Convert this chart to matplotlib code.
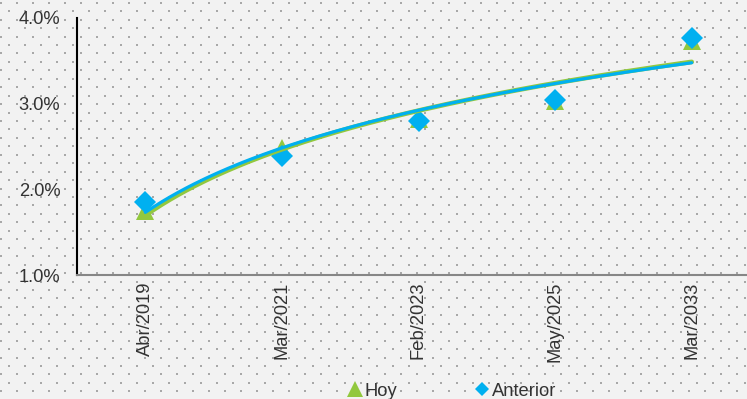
import numpy as np
import matplotlib
matplotlib.use("Agg")
import matplotlib.pyplot as plt
from matplotlib.lines import Line2D
from matplotlib.ticker import FuncFormatter

# Data
categories = ["Abr/2019", "Mar/2021", "Feb/2023", "May/2025", "Mar/2033"]
hoy = [1.75, 2.48, 2.82, 3.03, 3.73]
anterior = [1.85, 2.39, 2.80, 3.04, 3.77]

green = "#92C83E"
blue = "#00B0F0"

plt.rcParams["font.family"] = ["Liberation Sans", "DejaVu Sans"]
plt.rcParams["font.size"] = 13.2

W, H = 747, 399
fig = plt.figure(figsize=(W / 100, H / 100), dpi=100)
fig.patch.set_facecolor("#F2F2F2")

# Dotted background pattern over the whole figure
bg = fig.add_axes([0, 0, 1, 1], zorder=-1)
bg.set_xlim(0, W)
bg.set_ylim(H, 0)
bg.axis("off")
rows = np.arange(2.7, H, 8.45)
px, py = [], []
for i, yy in enumerate(rows):
    xs = np.arange(1.3 + (8 if i % 2 else 0), W, 16)
    px.extend(xs)
    py.extend([yy] * len(xs))
bg.scatter(px, py, s=1.3, marker="s", color="#A8A8A8", linewidths=0)

ax = fig.add_axes([77 / W, 1 - 275 / H, (760 - 77) / W, (275 - 18) / H])
ax.patch.set_alpha(0)

x = np.arange(len(categories))

# logarithmic trend lines (like Excel)
xf = np.linspace(1, len(categories), 200)
for vals, col, lw in [(hoy, green, 3.4), (anterior, blue, 2.3)]:
    a, b = np.polyfit(np.log(np.arange(1, len(vals) + 1)), vals, 1)
    ax.plot(xf - 1, a * np.log(xf) + b, color=col, lw=lw, zorder=4,
            solid_capstyle="round")

ax.plot(x, hoy, linestyle="none", marker="^", markersize=13, color=green,
        markeredgewidth=0, zorder=2)
ax.plot(x, anterior, linestyle="none", marker="D", markersize=11, color=blue,
        markeredgewidth=0, zorder=3)

ax.set_xlim(-0.5, 4.5)
ax.set_ylim(1.0, 4.0)
ax.set_yticks([1.0, 2.0, 3.0, 4.0])
ax.yaxis.set_major_formatter(FuncFormatter(lambda v, p: f"{v:.1f}%"))
ax.set_xticks(x)
ax.set_xticklabels(categories, rotation=90, va="top", ha="center")
ax.tick_params(axis="both", length=0, colors="#333333")
ax.tick_params(axis="y", pad=12)
ax.tick_params(axis="x", pad=5)

ax.spines["top"].set_visible(False)
ax.spines["right"].set_visible(False)
ax.spines["left"].set_color("black")
ax.spines["left"].set_linewidth(1.5)
ax.spines["bottom"].set_color("#868686")
ax.spines["bottom"].set_linewidth(1.5)

handles = [
    Line2D([], [], linestyle="none", marker="^", markersize=11, color=green,
           markeredgewidth=0, label="Hoy"),
    Line2D([], [], linestyle="none", marker="D", markersize=7, color=blue,
           markeredgewidth=0, label="Anterior"),
]
fig.legend(handles=handles, loc="center", bbox_to_anchor=(452 / W, 1 - 391 / H),
           ncol=2, frameon=False, handlelength=0.8, handletextpad=0.15,
           columnspacing=4.2, borderpad=0, labelcolor="#333333")

fig.savefig("out.png", dpi=100, facecolor=fig.get_facecolor())
